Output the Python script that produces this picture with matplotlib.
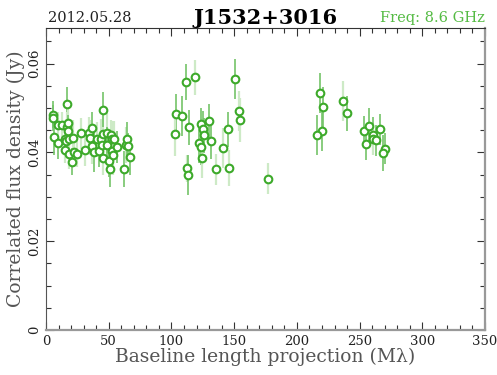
import matplotlib
matplotlib.use("Agg")
import matplotlib.pyplot as plt
from matplotlib.ticker import MultipleLocator

# baseline length (M lambda), correlated flux (Jy), error (Jy), light bar flag
baseline = [5.8, 5.8, 6.6, 9.3, 9.8, 12.5, 17.0, 16.5, 17.5, 17.3,
            15.1, 15.7, 15.1, 18.3, 18.6, 20.7, 21.8, 22.6, 24.5, 27.9,
            31.1, 34.3, 35.1, 36.4, 36.9, 38.5, 40.9, 42.3, 43.9, 44.4,
            45.2, 45.7, 45.7, 48.4, 48.9, 50.2, 51.0, 51.6, 52.4, 52.4,
            53.7, 54.2, 56.8, 62.4, 63.5, 64.8, 65.6, 67.0,
            103.6, 102.9, 111.4, 118.8, 108.4, 114.3, 123.8, 125.4, 129.7, 125.7,
            122.2, 123.6, 124.4, 131.3, 112.4, 113.0, 135.5, 141.1, 145.3, 145.9,
            150.9, 153.9, 154.7, 177.0,
            218.7, 221.1, 220.3, 216.3, 236.6, 240.2, 253.3, 257.8, 255.4, 260.7,
            261.0, 262.9, 266.5, 270.5, 268.5]
flux = [0.0485, 0.0477, 0.0434, 0.0420, 0.0462, 0.0461, 0.0508, 0.0457, 0.0466, 0.0449,
        0.0431, 0.0425, 0.0405, 0.0429, 0.0397, 0.0379, 0.0433, 0.0401, 0.0397, 0.0443,
        0.0405, 0.0444, 0.0433, 0.0455, 0.0414, 0.0401, 0.0429, 0.0403, 0.0429, 0.0416,
        0.0442, 0.0496, 0.0388, 0.0443, 0.0417, 0.0380, 0.0362, 0.0438, 0.0431, 0.0403,
        0.0393, 0.0431, 0.0412, 0.0363, 0.0416, 0.0429, 0.0414, 0.0389,
        0.0487, 0.0442, 0.0559, 0.0569, 0.0482, 0.0456, 0.0464, 0.0453, 0.0470, 0.0438,
        0.0422, 0.0412, 0.0387, 0.0425, 0.0364, 0.0348, 0.0362, 0.0410, 0.0452, 0.0365,
        0.0566, 0.0494, 0.0473, 0.0341,
        0.0534, 0.0503, 0.0447, 0.0439, 0.0515, 0.0488, 0.0448, 0.0459, 0.0418, 0.0440,
        0.0429, 0.0427, 0.0452, 0.0408, 0.0399]
err = [0.0030, 0.0030, 0.0040, 0.0035, 0.0030, 0.0030, 0.0040, 0.0035, 0.0035, 0.0035,
       0.0040, 0.0035, 0.0030, 0.0040, 0.0035, 0.0030, 0.0040, 0.0035, 0.0030, 0.0035,
       0.0035, 0.0035, 0.0040, 0.0035, 0.0040, 0.0045, 0.0040, 0.0035, 0.0045, 0.0035,
       0.0040, 0.0040, 0.0040, 0.0045, 0.0040, 0.0035, 0.0040, 0.0035, 0.0040, 0.0035,
       0.0045, 0.0040, 0.0035, 0.0040, 0.0040, 0.0040, 0.0030, 0.0040,
       0.0045, 0.0050, 0.0040, 0.0040, 0.0045, 0.0040, 0.0035, 0.0040, 0.0040, 0.0040,
       0.0045, 0.0040, 0.0045, 0.0040, 0.0030, 0.0045, 0.0035, 0.0045, 0.0040, 0.0040,
       0.0045, 0.0045, 0.0050, 0.0035,
       0.0045, 0.0045, 0.0045, 0.0045, 0.0045, 0.0040, 0.0035, 0.0040, 0.0035, 0.0040,
       0.0035, 0.0035, 0.0035, 0.0035, 0.0040]
light = [0, 0, 0, 0, 1, 1, 0, 1, 1, 0,
         1, 1, 1, 0, 1, 0, 1, 1, 1, 1,
         1, 1, 1, 0, 1, 0, 1, 0, 1, 0,
         1, 0, 1, 1, 0, 0, 0, 1, 1, 0,
         1, 1, 0, 0, 1, 0, 0, 0,
         0, 1, 0, 1, 0, 0, 0, 0, 0, 0,
         0, 0, 1, 0, 1, 0, 1, 1, 0, 1,
         0, 1, 1, 1,
         0, 0, 0, 0, 1, 0, 0, 0, 0, 0,
         1, 0, 0, 0, 0]

plt.rcParams['font.family'] = ['DejaVu Serif']

fig = plt.figure(figsize=(4.97, 3.75), dpi=100)
ax = fig.add_axes([0.0926, 0.12, 0.8833, 0.8053])

dark_c = '#74c468'
light_c = '#cdeac6'
for xb, yf, e, lt in zip(baseline, flux, err, light):
    ax.errorbar(xb, yf, yerr=e, fmt='none', ecolor=light_c if lt else dark_c,
                elinewidth=1.6 if lt else 1.2, capsize=0, zorder=2)
ax.plot(baseline, flux, 'o', mfc='white', mec='#3daa2a', mew=1.5, ms=5.5, ls='none', zorder=3)

ax.set_xlim(0, 350)
ax.set_ylim(0, 0.068)
ax.xaxis.set_major_locator(MultipleLocator(50))
ax.xaxis.set_minor_locator(MultipleLocator(10))
ax.yaxis.set_major_locator(MultipleLocator(0.02))
ax.yaxis.set_minor_locator(MultipleLocator(0.005))
ax.set_yticklabels([], minor=True)
ax.yaxis.set_major_formatter(plt.FuncFormatter(lambda v, p: '0' if v == 0 else f'{v:.2f}'))
ax.tick_params(which='both', direction='in', top=True, right=True, colors='#333333',
               labelsize=9.5, labelcolor='#222222')
ax.tick_params(which='major', length=6, width=0.8)
ax.tick_params(which='minor', length=3.5, width=0.8)
for lab in ax.get_yticklabels():
    lab.set_rotation(90)
    lab.set_va('center')

ax.spines['left'].set_color('#555555')
ax.spines['top'].set_color('#333333')
ax.spines['bottom'].set_color('#999999')
ax.spines['right'].set_color('#999999')
ax.spines['bottom'].set_linewidth(1.6)
ax.spines['right'].set_linewidth(1.6)

ax.set_xlabel('Baseline length projection (M\u03bb)', fontsize=13.5, color='#555555', labelpad=0)
ax.set_ylabel('Correlated flux density (Jy)', fontsize=13.5, color='#555555', labelpad=2)

fig.text(0.096, 0.953, '2012.05.28', fontsize=10.5, color='#222222', va='center', ha='left')
fig.text(0.534, 0.953, 'J1532+3016', fontsize=15, fontweight='bold', color='black',
         va='center', ha='center')
fig.text(0.975, 0.953, 'Freq: 8.6 GHz', fontsize=10.5, color='#55bb44', va='center', ha='right')

fig.savefig('out.png', dpi=100)
